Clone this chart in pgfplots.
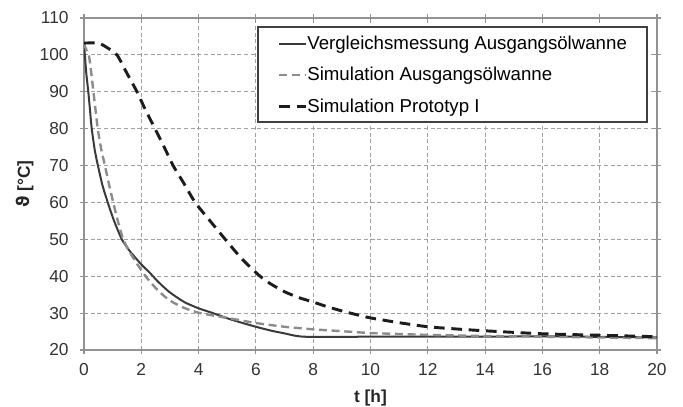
\documentclass[border=0pt]{standalone}
\usepackage{fontspec}
\setmainfont{Liberation Sans}
\newfontfamily\symfont{DejaVu Sans}
\usepackage{pgfplots}
\pgfplotsset{compat=1.18}
\definecolor{mess}{HTML}{3A3A3A}
\definecolor{simgray}{HTML}{8C8C8C}
\definecolor{proto}{HTML}{1C1C1C}
\definecolor{frame}{HTML}{929292}
\definecolor{gridc}{HTML}{A0A0A0}

\begin{document}
\begin{tikzpicture}
  \useasboundingbox (-63pt,-42.75pt) rectangle (449.25pt,262.5pt);
  \begin{axis}[
    at={(0,0)}, anchor=south west,
    scale only axis,
    width=429.75pt, height=249pt,
    xmin=0, xmax=20, ymin=20, ymax=110,
    xtick={0,2,...,20}, ytick={20,30,...,110},
    grid=major,
    major grid style={draw=gridc, line width=0.6pt, dash pattern=on 3pt off 2pt},
    axis line style={draw=frame, line width=1pt},
    tick style={draw=frame, line width=0.8pt},
    tick align=center,
    major tick length=6pt,
    /pgf/number format/assume math mode=true,
    ticklabel style={font=\fontsize{13}{15}\selectfont, text=black!80},
    xticklabel style={yshift=-3.5pt},
    yticklabel style={xshift=-5pt},
    xlabel={\textbf{t [h]}},
    ylabel={{\symfont\bfseries ϑ} \textbf{[°C]}},
    label style={font=\fontsize{13}{15}\selectfont, text=black!85},
    xlabel style={at={(axis description cs:0.5,-0.145)}, anchor=center},
    ylabel style={at={(axis description cs:-0.103,0.5)}, anchor=center},
    legend cell align=left,
    legend image code/.code={\draw[#1] (0pt,4.5pt) -- (20pt,4.5pt);},
    legend style={
      at={(axis description cs:0.984,0.976)}, anchor=north east,
      draw=black!75, line width=1.3pt, fill=white,
      font=\fontsize{14}{16}\selectfont,
      inner xsep=15pt, inner ysep=7pt,
      row sep=13.6pt, column sep=0pt,
      nodes={inner sep=0pt, text height=10pt, text depth=0pt, anchor=base west}
    }
  ]
    \addplot[mess, line width=1.5pt, smooth, tension=0.4] coordinates {
      (0,102.5)(0.03,100)(0.08,95)(0.15,90)(0.21,85)(0.27,80)(0.38,74)
      (0.5,69.5)(0.65,64.5)(0.85,59.5)(1.05,55)(1.32,50)(1.6,46.8)
      (2.0,43.2)(2.3,40.9)(2.6,38.4)(3.0,35.6)(3.5,33.0)(4.0,31.3)
      (4.5,30.0)(5.0,28.6)(5.5,27.4)(6.0,26.3)(6.5,25.3)(7.0,24.5)
      (7.7,23.6)(10,23.6)(14,23.6)(16,23.7)(20,23.4)
    };
    \addlegendentry{Vergleichsmessung Ausgangsölwanne}
    \addplot[simgray, line width=1.8pt, dash pattern=on 6pt off 3.5pt, smooth, tension=0.4] coordinates {
      (0,103)(0.1,101)(0.19,99)(0.33,90)(0.48,80)(0.6,74.5)(0.73,70)
      (0.87,65)(1.02,60)(1.18,55)(1.37,50)(1.6,46.5)(1.84,43.5)(2.1,40.5)
      (2.31,38.5)(2.6,36.0)(3.0,33.4)(3.5,31.4)(4.0,30.1)(4.76,29.0)
      (5.5,28.0)(6.0,27.3)(7.0,26.3)(8.0,25.6)(9.0,25.1)(10,24.6)
      (12,24.1)(14,23.8)(16,23.6)(18,23.4)(20,23.2)
    };
    \addlegendentry{Simulation Ausgangsölwanne}
    \addplot[proto, line width=2.2pt, dash pattern=on 8pt off 5pt, smooth, tension=0.4] coordinates {
      (0,103.2)(0.5,103.2)(0.8,102)(1.15,100)(1.5,95)(1.85,90)(2.15,85)
      (2.48,80)(2.8,75)(3.11,70)(3.5,65)(3.88,60)(4.4,55)(4.93,50)
      (5.5,44.8)(6.1,40.3)(6.5,38)(7,35.8)(7.5,34.2)(8,33)(8.5,31.7)
      (9,30.6)(9.5,29.6)(10,28.7)(11,27.4)(12,26.3)(13,25.7)(14,25.2)
      (16,24.4)(18,24)(20,23.6)
    };
    \addlegendentry{Simulation Prototyp I}
  \end{axis}
\end{tikzpicture}
\end{document}
